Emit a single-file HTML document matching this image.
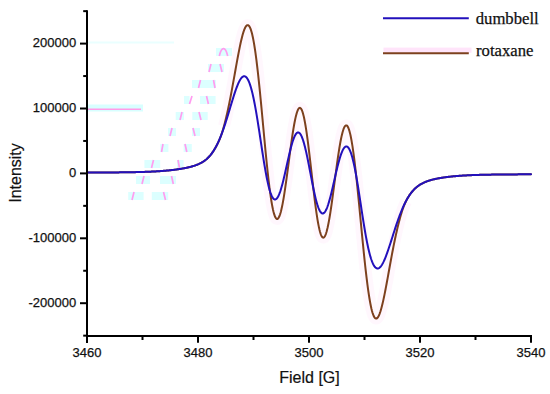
<!DOCTYPE html>
<html><head><meta charset="utf-8"><style>
html,body{margin:0;padding:0;background:#fff;}
body{width:550px;height:394px;overflow:hidden;}
svg{display:block;}
text{font-family:"Liberation Sans",sans-serif;}
.leg text{font-family:"Liberation Serif",serif;}
</style></head><body>
<svg width="550" height="394" viewBox="0 0 550 394">
<rect width="550" height="394" fill="#fff"/>
<g><rect x="88" y="104.5" width="55" height="7" fill="#d8ffff"/><line x1="88" y1="109.3" x2="141" y2="109.3" stroke="#ff9ce8" stroke-width="1.6"/><rect x="88" y="41.5" width="86" height="2" fill="#eaffff"/><rect x="216" y="48" width="16" height="8" fill="#dcffff"/><path d="M219.3 56 Q221 48.5 223.5 48.6 Q226 48.5 227.7 56" fill="none" stroke="#ff9cf0" stroke-width="1.7"/><rect x="208" y="64" width="16.0" height="8" fill="#dcffff"/><line x1="211" y1="64" x2="209" y2="72" stroke="#ff9cf0" stroke-width="1.7"/><line x1="220" y1="64" x2="222" y2="72" stroke="#ff9cf0" stroke-width="1.7"/><rect x="192" y="80" width="24.0" height="8" fill="#dcffff"/><line x1="200.5" y1="80" x2="198.5" y2="88" stroke="#ff9cf0" stroke-width="1.7"/><line x1="213.5" y1="80" x2="215" y2="88" stroke="#ff9cf0" stroke-width="1.7"/><rect x="184" y="96" width="5.5" height="8" fill="#dcffff"/><rect x="200" y="96" width="6.5" height="8" fill="#dcffff"/><rect x="206.5" y="96" width="9.1" height="8" fill="#dcffff"/><line x1="192" y1="96" x2="189.5" y2="104" stroke="#ff9cf0" stroke-width="1.7"/><line x1="206.5" y1="96" x2="208.4" y2="104" stroke="#ff9cf0" stroke-width="1.7"/><rect x="175.7" y="112" width="8.3" height="8" fill="#dcffff"/><rect x="192.3" y="112" width="15.4" height="8" fill="#dcffff"/><line x1="182" y1="112" x2="180" y2="120" stroke="#ff9cf0" stroke-width="1.7"/><line x1="199" y1="112" x2="201" y2="120" stroke="#ff9cf0" stroke-width="1.7"/><rect x="168" y="128" width="8.0" height="8" fill="#dcffff"/><rect x="192" y="128" width="8.0" height="8" fill="#dcffff"/><line x1="172" y1="128" x2="170" y2="136" stroke="#ff9cf0" stroke-width="1.7"/><line x1="193" y1="128" x2="195" y2="136" stroke="#ff9cf0" stroke-width="1.7"/><rect x="160.2" y="144" width="8.2" height="8" fill="#dcffff"/><rect x="183.6" y="144" width="8.2" height="8" fill="#dcffff"/><line x1="163" y1="144" x2="161.5" y2="152" stroke="#ff9cf0" stroke-width="1.7"/><line x1="185" y1="144" x2="186.8" y2="152" stroke="#ff9cf0" stroke-width="1.7"/><rect x="144.4" y="160" width="15.8" height="8" fill="#dcffff"/><rect x="177" y="160" width="6.6" height="8" fill="#dcffff"/><line x1="153.5" y1="160" x2="151.5" y2="168" stroke="#ff9cf0" stroke-width="1.7"/><line x1="178" y1="160" x2="179.5" y2="168" stroke="#ff9cf0" stroke-width="1.7"/><rect x="136" y="176" width="14.0" height="8" fill="#dcffff"/><rect x="160" y="176" width="16.0" height="8" fill="#dcffff"/><line x1="144" y1="176" x2="142" y2="184" stroke="#ff9cf0" stroke-width="1.7"/><line x1="171.5" y1="176" x2="173.3" y2="184" stroke="#ff9cf0" stroke-width="1.7"/><rect x="128.2" y="192" width="15.4" height="8" fill="#dcffff"/><rect x="151.8" y="192" width="16.4" height="8" fill="#dcffff"/><line x1="134" y1="192" x2="132" y2="200" stroke="#ff9cf0" stroke-width="1.7"/><line x1="163.5" y1="192" x2="165.5" y2="200" stroke="#ff9cf0" stroke-width="1.7"/></g>
<path d="M224.0 125.98 L224.5 124.13 L225.0 122.21 L225.5 120.23 L226.0 118.19 L226.5 116.08 L227.0 113.91 L227.5 111.68 L228.0 109.38 L228.5 107.03 L229.0 104.62 L229.5 102.16 L230.0 99.64 L230.5 97.08 L231.0 94.47 L231.5 91.82 L232.0 89.14 L232.5 86.42 L233.0 83.67 L233.5 80.90 L234.0 78.11 L234.5 75.31 L235.0 72.51 L235.5 69.71 L236.0 66.92 L236.5 64.15 L237.0 61.40 L237.5 58.69 L238.0 56.01 L238.5 53.39 L239.0 50.83 L239.5 48.33 L240.0 45.91 L240.5 43.58 L241.0 41.34 L241.5 39.21 L242.0 37.19 L242.5 35.29 L243.0 33.53 L243.5 31.92 L244.0 30.45 L244.5 29.14 L245.0 28.01 L245.5 27.05 L246.0 26.27 L246.5 25.69 L247.0 25.31 L247.5 25.13 L248.0 25.17 L248.5 25.42 L249.0 25.90 L249.5 26.60 L250.0 27.53 L250.5 28.70 L251.0 30.10 L251.5 31.73 L252.0 33.60 L252.5 35.71 L253.0 38.05 L253.5 40.63 L254.0 43.43 L254.5 46.47 L255.0 49.72 L255.5 53.18 L256.0 56.86 L256.5 60.74 L257.0 64.81 L257.5 69.06 L258.0 73.49 L258.5 78.07 L259.0 82.81 L259.5 87.68 L260.0 92.67 L260.5 97.77 L261.0 102.95 L261.5 108.21 L262.0 113.53 L262.5 118.88 L263.0 124.26 L263.5 129.63 L264.0 134.99 L264.5 140.32 L265.0 145.58 L265.5 150.78 L266.0 155.89 L266.5 160.89 L267.0 165.77 L267.5 170.50 L268.0 175.09 L268.5 179.50 L269.0 183.73 L269.5 187.77 L270.0 191.59 L270.5 195.20 L271.0 198.59 L271.5 201.73 L272.0 204.63 L272.5 207.27 L273.0 209.66 L273.5 211.78 L274.0 213.64 L274.5 215.22 L275.0 216.53 L275.5 217.56 L276.0 218.31 L276.5 218.79 L277.0 218.99 L277.5 218.92 L278.0 218.58 L278.5 217.98 L279.0 217.11 L279.5 215.99 L280.0 214.62 L280.5 213.01 L281.0 211.17 L281.5 209.10 L282.0 206.83 L282.5 204.35 L283.0 201.68 L283.5 198.84 L284.0 195.83 L284.5 192.67 L285.0 189.38 L285.5 185.97 L286.0 182.45 L286.5 178.84 L287.0 175.15 L287.5 171.41 L288.0 167.64 L288.5 163.83 L289.0 160.03 L289.5 156.23 L290.0 152.47 L290.5 148.75 L291.0 145.10 L291.5 141.53 L292.0 138.06 L292.5 134.71 L293.0 131.49 L293.5 128.41 L294.0 125.50 L294.5 122.77 L295.0 120.23 L295.5 117.89 L296.0 115.78 L296.5 113.89 L297.0 112.24 L297.5 110.84 L298.0 109.70 L298.5 108.83 L299.0 108.23 L299.5 107.90 L300.0 107.85 L300.5 108.09 L301.0 108.61 L301.5 109.41 L302.0 110.49 L302.5 111.85 L303.0 113.48 L303.5 115.38 L304.0 117.54 L304.5 119.95 L305.0 122.61 L305.5 125.49 L306.0 128.59 L306.5 131.89 L307.0 135.38 L307.5 139.04 L308.0 142.87 L308.5 146.83 L309.0 150.91 L309.5 155.09 L310.0 159.35 L310.5 163.68 L311.0 168.05 L311.5 172.44 L312.0 176.83 L312.5 181.20 L313.0 185.54 L313.5 189.81 L314.0 194.00 L314.5 198.09 L315.0 202.07 L315.5 205.91 L316.0 209.59 L316.5 213.10 L317.0 216.43 L317.5 219.55 L318.0 222.46 L318.5 225.14 L319.0 227.59 L319.5 229.78 L320.0 231.72 L320.5 233.39 L321.0 234.80 L321.5 235.92 L322.0 236.77 L322.5 237.34 L323.0 237.62 L323.5 237.63 L324.0 237.35 L324.5 236.80 L325.0 235.98 L325.5 234.90 L326.0 233.56 L326.5 231.96 L327.0 230.13 L327.5 228.07 L328.0 225.79 L328.5 223.30 L329.0 220.62 L329.5 217.76 L330.0 214.73 L330.5 211.55 L331.0 208.24 L331.5 204.80 L332.0 201.26 L332.5 197.64 L333.0 193.94 L333.5 190.20 L334.0 186.41 L334.5 182.61 L335.0 178.81 L335.5 175.02 L336.0 171.26 L336.5 167.56 L337.0 163.91 L337.5 160.35 L338.0 156.89 L338.5 153.54 L339.0 150.32 L339.5 147.23 L340.0 144.31 L340.5 141.55 L341.0 138.97 L341.5 136.59 L342.0 134.41 L342.5 132.45 L343.0 130.70 L343.5 129.20 L344.0 127.93 L344.5 126.91 L345.0 126.14 L345.5 125.64 L346.0 125.40 L346.5 125.42 L347.0 125.71 L347.5 126.28 L348.0 127.12 L348.5 128.22 L349.0 129.60 L349.5 131.24 L350.0 133.15 L350.5 135.32 L351.0 137.74 L351.5 140.41 L352.0 143.32 L352.5 146.46 L353.0 149.83 L353.5 153.41 L354.0 157.19 L354.5 161.17 L355.0 165.33 L355.5 169.65 L356.0 174.13 L356.5 178.75 L357.0 183.50 L357.5 188.35 L358.0 193.31 L358.5 198.35 L359.0 203.45 L359.5 208.60 L360.0 213.78 L360.5 218.99 L361.0 224.19 L361.5 229.38 L362.0 234.54 L362.5 239.65 L363.0 244.71 L363.5 249.68 L364.0 254.57 L364.5 259.35 L365.0 264.01 L365.5 268.55 L366.0 272.94 L366.5 277.17 L367.0 281.24 L367.5 285.13 L368.0 288.83 L368.5 292.34 L369.0 295.65 L369.5 298.75 L370.0 301.64 L370.5 304.30 L371.0 306.74 L371.5 308.96 L372.0 310.94 L372.5 312.69 L373.0 314.21 L373.5 315.50 L374.0 316.56 L374.5 317.39 L375.0 318.00 L375.5 318.38 L376.0 318.55 L376.5 318.50 L377.0 318.24 L377.5 317.78 L378.0 317.13 L378.5 316.29 L379.0 315.26 L379.5 314.07 L380.0 312.71 L380.5 311.20 L381.0 309.53 L381.5 307.74 L382.0 305.81 L382.5 303.76 L383.0 301.61 L383.5 299.35 L384.0 297.01 L384.5 294.58 L385.0 292.08 L385.5 289.52 L386.0 286.90 L386.5 284.24 L387.0 281.54 L387.5 278.81 L388.0 276.06 L388.5 273.30 L389.0 270.53 L389.5 267.77 L390.0 265.01 L390.5 262.26 L391.0 259.54 L391.5 256.84 L392.0 254.17 L392.5 251.54 L393.0 248.94 L393.5 246.39 L394.0 243.88 L394.5 241.43 L395.0 239.03 L395.5 236.68 L396.0 234.39 L396.5 232.16 L397.0 229.99 L397.5 227.88 L398.0 225.84 L398.5 223.85 L399.0 221.94 L399.5 220.08 L400.0 218.29 L400.5 216.56 L401.0 214.90 L401.5 213.29 L402.0 211.75 L402.5 210.27 L403.0 208.85 L403.5 207.48 L404.0 206.17 L404.5 204.92 L405.0 203.72 L405.5 202.57 L406.0 201.48" fill="none" stroke="#ff3cc8" stroke-opacity="0.045" stroke-width="12" stroke-linejoin="round"/>
<g fill="none" stroke-linejoin="round" stroke-linecap="round" stroke-width="2">
<path d="M87.0 172.61 L87.5 172.61 L88.0 172.61 L88.5 172.61 L89.0 172.60 L89.5 172.60 L90.0 172.60 L90.5 172.59 L91.0 172.59 L91.5 172.59 L92.0 172.58 L92.5 172.58 L93.0 172.58 L93.5 172.58 L94.0 172.57 L94.5 172.57 L95.0 172.57 L95.5 172.56 L96.0 172.56 L96.5 172.56 L97.0 172.55 L97.5 172.55 L98.0 172.55 L98.5 172.54 L99.0 172.54 L99.5 172.54 L100.0 172.53 L100.5 172.53 L101.0 172.53 L101.5 172.52 L102.0 172.52 L102.5 172.52 L103.0 172.51 L103.5 172.51 L104.0 172.51 L104.5 172.50 L105.0 172.50 L105.5 172.50 L106.0 172.49 L106.5 172.49 L107.0 172.49 L107.5 172.48 L108.0 172.48 L108.5 172.47 L109.0 172.47 L109.5 172.47 L110.0 172.46 L110.5 172.46 L111.0 172.45 L111.5 172.45 L112.0 172.44 L112.5 172.44 L113.0 172.44 L113.5 172.43 L114.0 172.43 L114.5 172.42 L115.0 172.42 L115.5 172.41 L116.0 172.41 L116.5 172.40 L117.0 172.40 L117.5 172.39 L118.0 172.39 L118.5 172.38 L119.0 172.38 L119.5 172.37 L120.0 172.37 L120.5 172.36 L121.0 172.36 L121.5 172.35 L122.0 172.34 L122.5 172.34 L123.0 172.33 L123.5 172.33 L124.0 172.32 L124.5 172.31 L125.0 172.31 L125.5 172.30 L126.0 172.29 L126.5 172.29 L127.0 172.28 L127.5 172.27 L128.0 172.26 L128.5 172.26 L129.0 172.25 L129.5 172.24 L130.0 172.23 L130.5 172.22 L131.0 172.21 L131.5 172.21 L132.0 172.20 L132.5 172.19 L133.0 172.18 L133.5 172.17 L134.0 172.16 L134.5 172.15 L135.0 172.14 L135.5 172.13 L136.0 172.12 L136.5 172.10 L137.0 172.09 L137.5 172.08 L138.0 172.07 L138.5 172.06 L139.0 172.04 L139.5 172.03 L140.0 172.02 L140.5 172.01 L141.0 171.99 L141.5 171.98 L142.0 171.96 L142.5 171.95 L143.0 171.93 L143.5 171.92 L144.0 171.90 L144.5 171.88 L145.0 171.87 L145.5 171.85 L146.0 171.83 L146.5 171.82 L147.0 171.80 L147.5 171.78 L148.0 171.76 L148.5 171.74 L149.0 171.72 L149.5 171.70 L150.0 171.68 L150.5 171.66 L151.0 171.63 L151.5 171.61 L152.0 171.59 L152.5 171.56 L153.0 171.54 L153.5 171.51 L154.0 171.49 L154.5 171.46 L155.0 171.43 L155.5 171.41 L156.0 171.38 L156.5 171.35 L157.0 171.32 L157.5 171.29 L158.0 171.26 L158.5 171.23 L159.0 171.20 L159.5 171.16 L160.0 171.13 L160.5 171.09 L161.0 171.06 L161.5 171.02 L162.0 170.99 L162.5 170.95 L163.0 170.91 L163.5 170.87 L164.0 170.83 L164.5 170.79 L165.0 170.75 L165.5 170.70 L166.0 170.66 L166.5 170.61 L167.0 170.57 L167.5 170.52 L168.0 170.47 L168.5 170.43 L169.0 170.38 L169.5 170.32 L170.0 170.27 L170.5 170.22 L171.0 170.17 L171.5 170.11 L172.0 170.05 L172.5 170.00 L173.0 169.94 L173.5 169.88 L174.0 169.82 L174.5 169.75 L175.0 169.69 L175.5 169.62 L176.0 169.56 L176.5 169.49 L177.0 169.42 L177.5 169.35 L178.0 169.28 L178.5 169.20 L179.0 169.13 L179.5 169.05 L180.0 168.97 L180.5 168.89 L181.0 168.81 L181.5 168.73 L182.0 168.64 L182.5 168.55 L183.0 168.47 L183.5 168.37 L184.0 168.28 L184.5 168.19 L185.0 168.09 L185.5 167.99 L186.0 167.89 L186.5 167.78 L187.0 167.68 L187.5 167.57 L188.0 167.45 L188.5 167.34 L189.0 167.22 L189.5 167.10 L190.0 166.97 L190.5 166.85 L191.0 166.72 L191.5 166.58 L192.0 166.44 L192.5 166.30 L193.0 166.15 L193.5 165.99 L194.0 165.84 L194.5 165.67 L195.0 165.51 L195.5 165.33 L196.0 165.15 L196.5 164.96 L197.0 164.77 L197.5 164.57 L198.0 164.36 L198.5 164.14 L199.0 163.92 L199.5 163.68 L200.0 163.44 L200.5 163.19 L201.0 162.92 L201.5 162.65 L202.0 162.36 L202.5 162.06 L203.0 161.75 L203.5 161.43 L204.0 161.09 L204.5 160.73 L205.0 160.37 L205.5 159.98 L206.0 159.58 L206.5 159.16 L207.0 158.72 L207.5 158.26 L208.0 157.78 L208.5 157.28 L209.0 156.76 L209.5 156.21 L210.0 155.64 L210.5 155.05 L211.0 154.43 L211.5 153.79 L212.0 153.12 L212.5 152.42 L213.0 151.69 L213.5 150.93 L214.0 150.14 L214.5 149.33 L215.0 148.49 L215.5 147.63 L216.0 146.74 L216.5 145.83 L217.0 144.88 L217.5 143.90 L218.0 142.88 L218.5 141.82 L219.0 140.71 L219.5 139.56 L220.0 138.34 L220.5 137.07 L221.0 135.73 L221.5 134.31 L222.0 132.83 L222.5 131.26 L223.0 129.62 L223.5 127.89 L224.0 126.09 L224.5 124.21 L225.0 122.26 L225.5 120.25 L226.0 118.19 L226.5 116.08 L227.0 113.91 L227.5 111.68 L228.0 109.38 L228.5 107.03 L229.0 104.62 L229.5 102.16 L230.0 99.64 L230.5 97.08 L231.0 94.47 L231.5 91.82 L232.0 89.14 L232.5 86.42 L233.0 83.67 L233.5 80.90 L234.0 78.11 L234.5 75.31 L235.0 72.51 L235.5 69.71 L236.0 66.92 L236.5 64.15 L237.0 61.40 L237.5 58.69 L238.0 56.01 L238.5 53.39 L239.0 50.83 L239.5 48.33 L240.0 45.91 L240.5 43.58 L241.0 41.34 L241.5 39.21 L242.0 37.19 L242.5 35.29 L243.0 33.53 L243.5 31.92 L244.0 30.45 L244.5 29.14 L245.0 28.01 L245.5 27.05 L246.0 26.27 L246.5 25.69 L247.0 25.31 L247.5 25.13 L248.0 25.17 L248.5 25.42 L249.0 25.90 L249.5 26.60 L250.0 27.53 L250.5 28.70 L251.0 30.10 L251.5 31.73 L252.0 33.60 L252.5 35.71 L253.0 38.05 L253.5 40.63 L254.0 43.43 L254.5 46.47 L255.0 49.72 L255.5 53.18 L256.0 56.86 L256.5 60.74 L257.0 64.81 L257.5 69.06 L258.0 73.49 L258.5 78.07 L259.0 82.81 L259.5 87.68 L260.0 92.67 L260.5 97.77 L261.0 102.95 L261.5 108.21 L262.0 113.53 L262.5 118.88 L263.0 124.26 L263.5 129.63 L264.0 134.99 L264.5 140.32 L265.0 145.58 L265.5 150.78 L266.0 155.89 L266.5 160.89 L267.0 165.77 L267.5 170.50 L268.0 175.09 L268.5 179.50 L269.0 183.73 L269.5 187.77 L270.0 191.59 L270.5 195.20 L271.0 198.59 L271.5 201.73 L272.0 204.63 L272.5 207.27 L273.0 209.66 L273.5 211.78 L274.0 213.64 L274.5 215.22 L275.0 216.53 L275.5 217.56 L276.0 218.31 L276.5 218.79 L277.0 218.99 L277.5 218.92 L278.0 218.58 L278.5 217.98 L279.0 217.11 L279.5 215.99 L280.0 214.62 L280.5 213.01 L281.0 211.17 L281.5 209.10 L282.0 206.83 L282.5 204.35 L283.0 201.68 L283.5 198.84 L284.0 195.83 L284.5 192.67 L285.0 189.38 L285.5 185.97 L286.0 182.45 L286.5 178.84 L287.0 175.15 L287.5 171.41 L288.0 167.64 L288.5 163.83 L289.0 160.03 L289.5 156.23 L290.0 152.47 L290.5 148.75 L291.0 145.10 L291.5 141.53 L292.0 138.06 L292.5 134.71 L293.0 131.49 L293.5 128.41 L294.0 125.50 L294.5 122.77 L295.0 120.23 L295.5 117.89 L296.0 115.78 L296.5 113.89 L297.0 112.24 L297.5 110.84 L298.0 109.70 L298.5 108.83 L299.0 108.23 L299.5 107.90 L300.0 107.85 L300.5 108.09 L301.0 108.61 L301.5 109.41 L302.0 110.49 L302.5 111.85 L303.0 113.48 L303.5 115.38 L304.0 117.54 L304.5 119.95 L305.0 122.61 L305.5 125.49 L306.0 128.59 L306.5 131.89 L307.0 135.38 L307.5 139.04 L308.0 142.87 L308.5 146.83 L309.0 150.91 L309.5 155.09 L310.0 159.35 L310.5 163.68 L311.0 168.05 L311.5 172.44 L312.0 176.83 L312.5 181.20 L313.0 185.54 L313.5 189.81 L314.0 194.00 L314.5 198.09 L315.0 202.07 L315.5 205.91 L316.0 209.59 L316.5 213.10 L317.0 216.43 L317.5 219.55 L318.0 222.46 L318.5 225.14 L319.0 227.59 L319.5 229.78 L320.0 231.72 L320.5 233.39 L321.0 234.80 L321.5 235.92 L322.0 236.77 L322.5 237.34 L323.0 237.62 L323.5 237.63 L324.0 237.35 L324.5 236.80 L325.0 235.98 L325.5 234.90 L326.0 233.56 L326.5 231.96 L327.0 230.13 L327.5 228.07 L328.0 225.79 L328.5 223.30 L329.0 220.62 L329.5 217.76 L330.0 214.73 L330.5 211.55 L331.0 208.24 L331.5 204.80 L332.0 201.26 L332.5 197.64 L333.0 193.94 L333.5 190.20 L334.0 186.41 L334.5 182.61 L335.0 178.81 L335.5 175.02 L336.0 171.26 L336.5 167.56 L337.0 163.91 L337.5 160.35 L338.0 156.89 L338.5 153.54 L339.0 150.32 L339.5 147.23 L340.0 144.31 L340.5 141.55 L341.0 138.97 L341.5 136.59 L342.0 134.41 L342.5 132.45 L343.0 130.70 L343.5 129.20 L344.0 127.93 L344.5 126.91 L345.0 126.14 L345.5 125.64 L346.0 125.40 L346.5 125.42 L347.0 125.71 L347.5 126.28 L348.0 127.12 L348.5 128.22 L349.0 129.60 L349.5 131.24 L350.0 133.15 L350.5 135.32 L351.0 137.74 L351.5 140.41 L352.0 143.32 L352.5 146.46 L353.0 149.83 L353.5 153.41 L354.0 157.19 L354.5 161.17 L355.0 165.33 L355.5 169.65 L356.0 174.13 L356.5 178.75 L357.0 183.50 L357.5 188.35 L358.0 193.31 L358.5 198.35 L359.0 203.45 L359.5 208.60 L360.0 213.78 L360.5 218.99 L361.0 224.19 L361.5 229.38 L362.0 234.54 L362.5 239.65 L363.0 244.71 L363.5 249.68 L364.0 254.57 L364.5 259.35 L365.0 264.01 L365.5 268.55 L366.0 272.94 L366.5 277.17 L367.0 281.24 L367.5 285.13 L368.0 288.83 L368.5 292.34 L369.0 295.65 L369.5 298.75 L370.0 301.64 L370.5 304.30 L371.0 306.74 L371.5 308.96 L372.0 310.94 L372.5 312.69 L373.0 314.21 L373.5 315.50 L374.0 316.56 L374.5 317.39 L375.0 318.00 L375.5 318.38 L376.0 318.55 L376.5 318.50 L377.0 318.24 L377.5 317.78 L378.0 317.13 L378.5 316.29 L379.0 315.26 L379.5 314.07 L380.0 312.71 L380.5 311.20 L381.0 309.53 L381.5 307.74 L382.0 305.81 L382.5 303.76 L383.0 301.61 L383.5 299.35 L384.0 297.01 L384.5 294.58 L385.0 292.08 L385.5 289.52 L386.0 286.90 L386.5 284.24 L387.0 281.54 L387.5 278.81 L388.0 276.06 L388.5 273.30 L389.0 270.53 L389.5 267.77 L390.0 265.01 L390.5 262.26 L391.0 259.54 L391.5 256.84 L392.0 254.17 L392.5 251.54 L393.0 248.94 L393.5 246.39 L394.0 243.88 L394.5 241.43 L395.0 239.03 L395.5 236.68 L396.0 234.39 L396.5 232.16 L397.0 229.99 L397.5 227.88 L398.0 225.84 L398.5 223.83 L399.0 221.87 L399.5 219.95 L400.0 218.08 L400.5 216.28 L401.0 214.55 L401.5 212.90 L402.0 211.32 L402.5 209.81 L403.0 208.38 L403.5 207.02 L404.0 205.73 L404.5 204.50 L405.0 203.35 L405.5 202.25 L406.0 201.20 L406.5 200.21 L407.0 199.27 L407.5 198.37 L408.0 197.52 L408.5 196.70 L409.0 195.91 L409.5 195.16 L410.0 194.44 L410.5 193.75 L411.0 193.08 L411.5 192.44 L412.0 191.82 L412.5 191.23 L413.0 190.66 L413.5 190.11 L414.0 189.58 L414.5 189.07 L415.0 188.59 L415.5 188.12 L416.0 187.68 L416.5 187.25 L417.0 186.84 L417.5 186.44 L418.0 186.06 L418.5 185.70 L419.0 185.35 L419.5 185.02 L420.0 184.70 L420.5 184.39 L421.0 184.09 L421.5 183.81 L422.0 183.54 L422.5 183.28 L423.0 183.03 L423.5 182.78 L424.0 182.55 L424.5 182.33 L425.0 182.11 L425.5 181.90 L426.0 181.70 L426.5 181.51 L427.0 181.33 L427.5 181.15 L428.0 180.97 L428.5 180.81 L429.0 180.65 L429.5 180.49 L430.0 180.34 L430.5 180.19 L431.0 180.05 L431.5 179.91 L432.0 179.78 L432.5 179.65 L433.0 179.52 L433.5 179.40 L434.0 179.28 L434.5 179.16 L435.0 179.05 L435.5 178.94 L436.0 178.84 L436.5 178.73 L437.0 178.63 L437.5 178.53 L438.0 178.44 L438.5 178.34 L439.0 178.25 L439.5 178.16 L440.0 178.07 L440.5 177.99 L441.0 177.90 L441.5 177.82 L442.0 177.74 L442.5 177.66 L443.0 177.59 L443.5 177.51 L444.0 177.44 L444.5 177.37 L445.0 177.30 L445.5 177.23 L446.0 177.16 L446.5 177.10 L447.0 177.03 L447.5 176.97 L448.0 176.91 L448.5 176.85 L449.0 176.79 L449.5 176.73 L450.0 176.68 L450.5 176.62 L451.0 176.57 L451.5 176.52 L452.0 176.46 L452.5 176.41 L453.0 176.36 L453.5 176.32 L454.0 176.27 L454.5 176.22 L455.0 176.18 L455.5 176.13 L456.0 176.09 L456.5 176.05 L457.0 176.01 L457.5 175.97 L458.0 175.93 L458.5 175.89 L459.0 175.85 L459.5 175.81 L460.0 175.78 L460.5 175.74 L461.0 175.71 L461.5 175.67 L462.0 175.64 L462.5 175.61 L463.0 175.58 L463.5 175.55 L464.0 175.52 L464.5 175.49 L465.0 175.46 L465.5 175.43 L466.0 175.40 L466.5 175.38 L467.0 175.35 L467.5 175.32 L468.0 175.30 L468.5 175.28 L469.0 175.25 L469.5 175.23 L470.0 175.21 L470.5 175.18 L471.0 175.16 L471.5 175.14 L472.0 175.12 L472.5 175.10 L473.0 175.08 L473.5 175.06 L474.0 175.05 L474.5 175.03 L475.0 175.01 L475.5 174.99 L476.0 174.98 L476.5 174.96 L477.0 174.94 L477.5 174.93 L478.0 174.91 L478.5 174.90 L479.0 174.88 L479.5 174.87 L480.0 174.86 L480.5 174.84 L481.0 174.83 L481.5 174.82 L482.0 174.81 L482.5 174.79 L483.0 174.78 L483.5 174.77 L484.0 174.76 L484.5 174.75 L485.0 174.74 L485.5 174.73 L486.0 174.72 L486.5 174.71 L487.0 174.70 L487.5 174.69 L488.0 174.68 L488.5 174.67 L489.0 174.66 L489.5 174.65 L490.0 174.64 L490.5 174.64 L491.0 174.63 L491.5 174.62 L492.0 174.61 L492.5 174.61 L493.0 174.60 L493.5 174.59 L494.0 174.58 L494.5 174.58 L495.0 174.57 L495.5 174.56 L496.0 174.56 L496.5 174.55 L497.0 174.55 L497.5 174.54 L498.0 174.53 L498.5 174.53 L499.0 174.52 L499.5 174.52 L500.0 174.51 L500.5 174.51 L501.0 174.50 L501.5 174.50 L502.0 174.49 L502.5 174.49 L503.0 174.48 L503.5 174.48 L504.0 174.47 L504.5 174.47 L505.0 174.47 L505.5 174.46 L506.0 174.46 L506.5 174.45 L507.0 174.45 L507.5 174.45 L508.0 174.44 L508.5 174.44 L509.0 174.43 L509.5 174.43 L510.0 174.43 L510.5 174.42 L511.0 174.42 L511.5 174.42 L512.0 174.41 L512.5 174.41 L513.0 174.40 L513.5 174.40 L514.0 174.40 L514.5 174.39 L515.0 174.39 L515.5 174.39 L516.0 174.39 L516.5 174.38 L517.0 174.38 L517.5 174.38 L518.0 174.37 L518.5 174.37 L519.0 174.37 L519.5 174.36 L520.0 174.36 L520.5 174.36 L521.0 174.36 L521.5 174.35 L522.0 174.35 L522.5 174.35 L523.0 174.34 L523.5 174.34 L524.0 174.34 L524.5 174.34 L525.0 174.33 L525.5 174.33 L526.0 174.33 L526.5 174.32 L527.0 174.32 L527.5 174.32 L528.0 174.32 L528.5 174.31 L529.0 174.31 L529.5 174.31 L530.0 174.31 L530.5 174.30 L531.0 174.30" stroke="#7d401e"/>
<path d="M87.0 172.61 L87.5 172.61 L88.0 172.61 L88.5 172.61 L89.0 172.60 L89.5 172.60 L90.0 172.60 L90.5 172.59 L91.0 172.59 L91.5 172.59 L92.0 172.58 L92.5 172.58 L93.0 172.58 L93.5 172.58 L94.0 172.57 L94.5 172.57 L95.0 172.57 L95.5 172.56 L96.0 172.56 L96.5 172.56 L97.0 172.55 L97.5 172.55 L98.0 172.55 L98.5 172.54 L99.0 172.54 L99.5 172.54 L100.0 172.53 L100.5 172.53 L101.0 172.53 L101.5 172.52 L102.0 172.52 L102.5 172.52 L103.0 172.51 L103.5 172.51 L104.0 172.51 L104.5 172.50 L105.0 172.50 L105.5 172.50 L106.0 172.49 L106.5 172.49 L107.0 172.49 L107.5 172.48 L108.0 172.48 L108.5 172.47 L109.0 172.47 L109.5 172.47 L110.0 172.46 L110.5 172.46 L111.0 172.45 L111.5 172.45 L112.0 172.44 L112.5 172.44 L113.0 172.44 L113.5 172.43 L114.0 172.43 L114.5 172.42 L115.0 172.42 L115.5 172.41 L116.0 172.41 L116.5 172.40 L117.0 172.40 L117.5 172.39 L118.0 172.39 L118.5 172.38 L119.0 172.38 L119.5 172.37 L120.0 172.37 L120.5 172.36 L121.0 172.36 L121.5 172.35 L122.0 172.34 L122.5 172.34 L123.0 172.33 L123.5 172.33 L124.0 172.32 L124.5 172.31 L125.0 172.31 L125.5 172.30 L126.0 172.29 L126.5 172.29 L127.0 172.28 L127.5 172.27 L128.0 172.26 L128.5 172.26 L129.0 172.25 L129.5 172.24 L130.0 172.23 L130.5 172.22 L131.0 172.21 L131.5 172.21 L132.0 172.20 L132.5 172.19 L133.0 172.18 L133.5 172.17 L134.0 172.16 L134.5 172.15 L135.0 172.14 L135.5 172.13 L136.0 172.12 L136.5 172.10 L137.0 172.09 L137.5 172.08 L138.0 172.07 L138.5 172.06 L139.0 172.04 L139.5 172.03 L140.0 172.02 L140.5 172.01 L141.0 171.99 L141.5 171.98 L142.0 171.96 L142.5 171.95 L143.0 171.93 L143.5 171.92 L144.0 171.90 L144.5 171.88 L145.0 171.87 L145.5 171.85 L146.0 171.83 L146.5 171.82 L147.0 171.80 L147.5 171.78 L148.0 171.76 L148.5 171.74 L149.0 171.72 L149.5 171.70 L150.0 171.68 L150.5 171.66 L151.0 171.63 L151.5 171.61 L152.0 171.59 L152.5 171.56 L153.0 171.54 L153.5 171.51 L154.0 171.49 L154.5 171.46 L155.0 171.43 L155.5 171.41 L156.0 171.38 L156.5 171.35 L157.0 171.32 L157.5 171.29 L158.0 171.26 L158.5 171.23 L159.0 171.20 L159.5 171.16 L160.0 171.13 L160.5 171.09 L161.0 171.06 L161.5 171.02 L162.0 170.99 L162.5 170.95 L163.0 170.91 L163.5 170.87 L164.0 170.83 L164.5 170.79 L165.0 170.75 L165.5 170.70 L166.0 170.66 L166.5 170.61 L167.0 170.57 L167.5 170.52 L168.0 170.47 L168.5 170.43 L169.0 170.38 L169.5 170.32 L170.0 170.27 L170.5 170.22 L171.0 170.17 L171.5 170.11 L172.0 170.05 L172.5 170.00 L173.0 169.94 L173.5 169.88 L174.0 169.82 L174.5 169.75 L175.0 169.69 L175.5 169.62 L176.0 169.56 L176.5 169.49 L177.0 169.42 L177.5 169.35 L178.0 169.28 L178.5 169.20 L179.0 169.13 L179.5 169.05 L180.0 168.97 L180.5 168.89 L181.0 168.81 L181.5 168.73 L182.0 168.64 L182.5 168.55 L183.0 168.47 L183.5 168.37 L184.0 168.28 L184.5 168.19 L185.0 168.09 L185.5 167.99 L186.0 167.89 L186.5 167.78 L187.0 167.68 L187.5 167.57 L188.0 167.45 L188.5 167.34 L189.0 167.22 L189.5 167.10 L190.0 166.97 L190.5 166.85 L191.0 166.72 L191.5 166.58 L192.0 166.44 L192.5 166.30 L193.0 166.15 L193.5 165.99 L194.0 165.84 L194.5 165.67 L195.0 165.51 L195.5 165.33 L196.0 165.15 L196.5 164.96 L197.0 164.77 L197.5 164.57 L198.0 164.36 L198.5 164.14 L199.0 163.92 L199.5 163.68 L200.0 163.44 L200.5 163.19 L201.0 162.92 L201.5 162.65 L202.0 162.36 L202.5 162.06 L203.0 161.75 L203.5 161.43 L204.0 161.09 L204.5 160.73 L205.0 160.37 L205.5 159.98 L206.0 159.58 L206.5 159.16 L207.0 158.72 L207.5 158.26 L208.0 157.78 L208.5 157.28 L209.0 156.76 L209.5 156.21 L210.0 155.64 L210.5 155.05 L211.0 154.43 L211.5 153.79 L212.0 153.12 L212.5 152.42 L213.0 151.69 L213.5 150.93 L214.0 150.14 L214.5 149.32 L215.0 148.47 L215.5 147.59 L216.0 146.68 L216.5 145.73 L217.0 144.75 L217.5 143.73 L218.0 142.68 L218.5 141.59 L219.0 140.47 L219.5 139.32 L220.0 138.13 L220.5 136.90 L221.0 135.64 L221.5 134.35 L222.0 133.02 L222.5 131.66 L223.0 130.27 L223.5 128.85 L224.0 127.40 L224.5 125.91 L225.0 124.40 L225.5 122.87 L226.0 121.31 L226.5 119.73 L227.0 118.13 L227.5 116.51 L228.0 114.88 L228.5 113.23 L229.0 111.57 L229.5 109.91 L230.0 108.24 L230.5 106.57 L231.0 104.90 L231.5 103.24 L232.0 101.59 L232.5 99.96 L233.0 98.34 L233.5 96.74 L234.0 95.17 L234.5 93.63 L235.0 92.13 L235.5 90.66 L236.0 89.24 L236.5 87.87 L237.0 86.55 L237.5 85.29 L238.0 84.09 L238.5 82.96 L239.0 81.90 L239.5 80.92 L240.0 80.02 L240.5 79.20 L241.0 78.48 L241.5 77.85 L242.0 77.31 L242.5 76.88 L243.0 76.55 L243.5 76.33 L244.0 76.23 L244.5 76.24 L245.0 76.37 L245.5 76.62 L246.0 76.99 L246.5 77.49 L247.0 78.12 L247.5 78.87 L248.0 79.76 L248.5 80.77 L249.0 81.92 L249.5 83.20 L250.0 84.61 L250.5 86.16 L251.0 87.83 L251.5 89.63 L252.0 91.56 L252.5 93.61 L253.0 95.79 L253.5 98.08 L254.0 100.49 L254.5 103.01 L255.0 105.64 L255.5 108.37 L256.0 111.19 L256.5 114.10 L257.0 117.09 L257.5 120.16 L258.0 123.29 L258.5 126.47 L259.0 129.71 L259.5 132.97 L260.0 136.27 L260.5 139.58 L261.0 142.89 L261.5 146.19 L262.0 149.48 L262.5 152.74 L263.0 155.95 L263.5 159.12 L264.0 162.22 L264.5 165.25 L265.0 168.19 L265.5 171.04 L266.0 173.79 L266.5 176.44 L267.0 178.96 L267.5 181.36 L268.0 183.63 L268.5 185.77 L269.0 187.76 L269.5 189.61 L270.0 191.30 L270.5 192.85 L271.0 194.23 L271.5 195.46 L272.0 196.52 L272.5 197.42 L273.0 198.16 L273.5 198.74 L274.0 199.15 L274.5 199.40 L275.0 199.49 L275.5 199.41 L276.0 199.18 L276.5 198.80 L277.0 198.26 L277.5 197.57 L278.0 196.74 L278.5 195.77 L279.0 194.66 L279.5 193.42 L280.0 192.06 L280.5 190.59 L281.0 189.00 L281.5 187.31 L282.0 185.52 L282.5 183.65 L283.0 181.69 L283.5 179.67 L284.0 177.58 L284.5 175.44 L285.0 173.26 L285.5 171.05 L286.0 168.81 L286.5 166.55 L287.0 164.29 L287.5 162.04 L288.0 159.81 L288.5 157.60 L289.0 155.43 L289.5 153.30 L290.0 151.23 L290.5 149.22 L291.0 147.29 L291.5 145.44 L292.0 143.69 L292.5 142.04 L293.0 140.49 L293.5 139.07 L294.0 137.76 L294.5 136.59 L295.0 135.55 L295.5 134.66 L296.0 133.91 L296.5 133.31 L297.0 132.87 L297.5 132.58 L298.0 132.46 L298.5 132.50 L299.0 132.70 L299.5 133.06 L300.0 133.59 L300.5 134.27 L301.0 135.12 L301.5 136.12 L302.0 137.27 L302.5 138.57 L303.0 140.01 L303.5 141.59 L304.0 143.30 L304.5 145.14 L305.0 147.09 L305.5 149.16 L306.0 151.32 L306.5 153.57 L307.0 155.91 L307.5 158.31 L308.0 160.78 L308.5 163.30 L309.0 165.87 L309.5 168.46 L310.0 171.07 L310.5 173.68 L311.0 176.30 L311.5 178.90 L312.0 181.47 L312.5 184.01 L313.0 186.50 L313.5 188.93 L314.0 191.29 L314.5 193.57 L315.0 195.77 L315.5 197.87 L316.0 199.87 L316.5 201.76 L317.0 203.52 L317.5 205.16 L318.0 206.66 L318.5 208.02 L319.0 209.24 L319.5 210.31 L320.0 211.23 L320.5 212.00 L321.0 212.61 L321.5 213.05 L322.0 213.34 L322.5 213.47 L323.0 213.45 L323.5 213.26 L324.0 212.92 L324.5 212.43 L325.0 211.78 L325.5 211.00 L326.0 210.07 L326.5 209.00 L327.0 207.81 L327.5 206.49 L328.0 205.06 L328.5 203.51 L329.0 201.87 L329.5 200.13 L330.0 198.30 L330.5 196.39 L331.0 194.42 L331.5 192.38 L332.0 190.30 L332.5 188.17 L333.0 186.01 L333.5 183.82 L334.0 181.63 L334.5 179.42 L335.0 177.23 L335.5 175.04 L336.0 172.88 L336.5 170.75 L337.0 168.67 L337.5 166.63 L338.0 164.65 L338.5 162.74 L339.0 160.90 L339.5 159.14 L340.0 157.47 L340.5 155.89 L341.0 154.42 L341.5 153.05 L342.0 151.80 L342.5 150.67 L343.0 149.66 L343.5 148.78 L344.0 148.04 L344.5 147.43 L345.0 146.97 L345.5 146.64 L346.0 146.47 L346.5 146.44 L347.0 146.57 L347.5 146.85 L348.0 147.28 L348.5 147.87 L349.0 148.62 L349.5 149.52 L350.0 150.58 L350.5 151.79 L351.0 153.16 L351.5 154.68 L352.0 156.35 L352.5 158.17 L353.0 160.14 L353.5 162.24 L354.0 164.48 L354.5 166.85 L355.0 169.35 L355.5 171.96 L356.0 174.69 L356.5 177.52 L357.0 180.44 L357.5 183.45 L358.0 186.53 L358.5 189.68 L359.0 192.88 L359.5 196.12 L360.0 199.40 L360.5 202.69 L361.0 205.99 L361.5 209.28 L362.0 212.55 L362.5 215.80 L363.0 219.00 L363.5 222.16 L364.0 225.25 L364.5 228.28 L365.0 231.23 L365.5 234.09 L366.0 236.87 L366.5 239.54 L367.0 242.11 L367.5 244.57 L368.0 246.92 L368.5 249.16 L369.0 251.27 L369.5 253.27 L370.0 255.14 L370.5 256.89 L371.0 258.52 L371.5 260.02 L372.0 261.39 L372.5 262.64 L373.0 263.76 L373.5 264.76 L374.0 265.64 L374.5 266.40 L375.0 267.04 L375.5 267.56 L376.0 267.96 L376.5 268.25 L377.0 268.43 L377.5 268.50 L378.0 268.46 L378.5 268.32 L379.0 268.08 L379.5 267.74 L380.0 267.30 L380.5 266.78 L381.0 266.16 L381.5 265.47 L382.0 264.69 L382.5 263.84 L383.0 262.91 L383.5 261.91 L384.0 260.85 L384.5 259.73 L385.0 258.55 L385.5 257.32 L386.0 256.04 L386.5 254.72 L387.0 253.35 L387.5 251.95 L388.0 250.51 L388.5 249.05 L389.0 247.55 L389.5 246.04 L390.0 244.51 L390.5 242.96 L391.0 241.41 L391.5 239.84 L392.0 238.27 L392.5 236.70 L393.0 235.13 L393.5 233.56 L394.0 232.00 L394.5 230.45 L395.0 228.91 L395.5 227.38 L396.0 225.87 L396.5 224.38 L397.0 222.91 L397.5 221.45 L398.0 220.02 L398.5 218.62 L399.0 217.24 L399.5 215.89 L400.0 214.56 L400.5 213.27 L401.0 212.00 L401.5 210.76 L402.0 209.56 L402.5 208.38 L403.0 207.23 L403.5 206.12 L404.0 205.04 L404.5 203.99 L405.0 202.97 L405.5 201.98 L406.0 201.03 L406.5 200.10 L407.0 199.20 L407.5 198.34 L408.0 197.50 L408.5 196.70 L409.0 195.92 L409.5 195.17 L410.0 194.45 L410.5 193.75 L411.0 193.08 L411.5 192.44 L412.0 191.82 L412.5 191.23 L413.0 190.66 L413.5 190.11 L414.0 189.58 L414.5 189.07 L415.0 188.59 L415.5 188.12 L416.0 187.68 L416.5 187.25 L417.0 186.84 L417.5 186.44 L418.0 186.06 L418.5 185.70 L419.0 185.35 L419.5 185.02 L420.0 184.70 L420.5 184.39 L421.0 184.09 L421.5 183.81 L422.0 183.54 L422.5 183.28 L423.0 183.03 L423.5 182.78 L424.0 182.55 L424.5 182.33 L425.0 182.11 L425.5 181.90 L426.0 181.70 L426.5 181.51 L427.0 181.33 L427.5 181.15 L428.0 180.97 L428.5 180.81 L429.0 180.65 L429.5 180.49 L430.0 180.34 L430.5 180.19 L431.0 180.05 L431.5 179.91 L432.0 179.78 L432.5 179.65 L433.0 179.52 L433.5 179.40 L434.0 179.28 L434.5 179.16 L435.0 179.05 L435.5 178.94 L436.0 178.84 L436.5 178.73 L437.0 178.63 L437.5 178.53 L438.0 178.44 L438.5 178.34 L439.0 178.25 L439.5 178.16 L440.0 178.07 L440.5 177.99 L441.0 177.90 L441.5 177.82 L442.0 177.74 L442.5 177.66 L443.0 177.59 L443.5 177.51 L444.0 177.44 L444.5 177.37 L445.0 177.30 L445.5 177.23 L446.0 177.16 L446.5 177.10 L447.0 177.03 L447.5 176.97 L448.0 176.91 L448.5 176.85 L449.0 176.79 L449.5 176.73 L450.0 176.68 L450.5 176.62 L451.0 176.57 L451.5 176.52 L452.0 176.46 L452.5 176.41 L453.0 176.36 L453.5 176.32 L454.0 176.27 L454.5 176.22 L455.0 176.18 L455.5 176.13 L456.0 176.09 L456.5 176.05 L457.0 176.01 L457.5 175.97 L458.0 175.93 L458.5 175.89 L459.0 175.85 L459.5 175.81 L460.0 175.78 L460.5 175.74 L461.0 175.71 L461.5 175.67 L462.0 175.64 L462.5 175.61 L463.0 175.58 L463.5 175.55 L464.0 175.52 L464.5 175.49 L465.0 175.46 L465.5 175.43 L466.0 175.40 L466.5 175.38 L467.0 175.35 L467.5 175.32 L468.0 175.30 L468.5 175.28 L469.0 175.25 L469.5 175.23 L470.0 175.21 L470.5 175.18 L471.0 175.16 L471.5 175.14 L472.0 175.12 L472.5 175.10 L473.0 175.08 L473.5 175.06 L474.0 175.05 L474.5 175.03 L475.0 175.01 L475.5 174.99 L476.0 174.98 L476.5 174.96 L477.0 174.94 L477.5 174.93 L478.0 174.91 L478.5 174.90 L479.0 174.88 L479.5 174.87 L480.0 174.86 L480.5 174.84 L481.0 174.83 L481.5 174.82 L482.0 174.81 L482.5 174.79 L483.0 174.78 L483.5 174.77 L484.0 174.76 L484.5 174.75 L485.0 174.74 L485.5 174.73 L486.0 174.72 L486.5 174.71 L487.0 174.70 L487.5 174.69 L488.0 174.68 L488.5 174.67 L489.0 174.66 L489.5 174.65 L490.0 174.64 L490.5 174.64 L491.0 174.63 L491.5 174.62 L492.0 174.61 L492.5 174.61 L493.0 174.60 L493.5 174.59 L494.0 174.58 L494.5 174.58 L495.0 174.57 L495.5 174.56 L496.0 174.56 L496.5 174.55 L497.0 174.55 L497.5 174.54 L498.0 174.53 L498.5 174.53 L499.0 174.52 L499.5 174.52 L500.0 174.51 L500.5 174.51 L501.0 174.50 L501.5 174.50 L502.0 174.49 L502.5 174.49 L503.0 174.48 L503.5 174.48 L504.0 174.47 L504.5 174.47 L505.0 174.47 L505.5 174.46 L506.0 174.46 L506.5 174.45 L507.0 174.45 L507.5 174.45 L508.0 174.44 L508.5 174.44 L509.0 174.43 L509.5 174.43 L510.0 174.43 L510.5 174.42 L511.0 174.42 L511.5 174.42 L512.0 174.41 L512.5 174.41 L513.0 174.40 L513.5 174.40 L514.0 174.40 L514.5 174.39 L515.0 174.39 L515.5 174.39 L516.0 174.39 L516.5 174.38 L517.0 174.38 L517.5 174.38 L518.0 174.37 L518.5 174.37 L519.0 174.37 L519.5 174.36 L520.0 174.36 L520.5 174.36 L521.0 174.36 L521.5 174.35 L522.0 174.35 L522.5 174.35 L523.0 174.34 L523.5 174.34 L524.0 174.34 L524.5 174.34 L525.0 174.33 L525.5 174.33 L526.0 174.33 L526.5 174.32 L527.0 174.32 L527.5 174.32 L528.0 174.32 L528.5 174.31 L529.0 174.31 L529.5 174.31 L530.0 174.31 L530.5 174.30 L531.0 174.30" stroke="#2210bc"/>
</g>
<g stroke="#000" stroke-width="2" stroke-linecap="butt">
<line x1="87" y1="10.2" x2="87" y2="343"/>
<line x1="86" y1="336" x2="532" y2="336"/>
<line x1="83.2" y1="335.65" x2="87" y2="335.65"/><line x1="80" y1="303.20" x2="87" y2="303.20"/><line x1="83.2" y1="270.75" x2="87" y2="270.75"/><line x1="80" y1="238.30" x2="87" y2="238.30"/><line x1="83.2" y1="205.85" x2="87" y2="205.85"/><line x1="80" y1="173.40" x2="87" y2="173.40"/><line x1="83.2" y1="140.95" x2="87" y2="140.95"/><line x1="80" y1="108.50" x2="87" y2="108.50"/><line x1="83.2" y1="76.05" x2="87" y2="76.05"/><line x1="80" y1="43.60" x2="87" y2="43.60"/><line x1="83.2" y1="11.15" x2="87" y2="11.15"/><line x1="87.00" y1="336" x2="87.00" y2="342.8"/><line x1="142.50" y1="336" x2="142.50" y2="340"/><line x1="198.00" y1="336" x2="198.00" y2="342.8"/><line x1="253.50" y1="336" x2="253.50" y2="340"/><line x1="309.00" y1="336" x2="309.00" y2="342.8"/><line x1="364.50" y1="336" x2="364.50" y2="340"/><line x1="420.00" y1="336" x2="420.00" y2="342.8"/><line x1="475.50" y1="336" x2="475.50" y2="340"/><line x1="531.00" y1="336" x2="531.00" y2="342.8"/>
</g>
<g font-size="13" fill="#111" stroke="#111" stroke-width="0.25">
<text x="76.2" y="306.80" text-anchor="end">-200000</text><text x="76.2" y="241.90" text-anchor="end">-100000</text><text x="76.2" y="177.00" text-anchor="end">0</text><text x="76.2" y="112.10" text-anchor="end">100000</text><text x="76.2" y="47.20" text-anchor="end">200000</text><text x="87.00" y="357" text-anchor="middle">3460</text><text x="198.00" y="357" text-anchor="middle">3480</text><text x="309.00" y="357" text-anchor="middle">3500</text><text x="420.00" y="357" text-anchor="middle">3520</text><text x="531.00" y="357" text-anchor="middle">3540</text>
</g>
<text x="309.5" y="383" font-size="16" text-anchor="middle" fill="#111" stroke="#111" stroke-width="0.2">Field [G]</text>
<text transform="translate(20.6,173) rotate(-90)" font-size="16" text-anchor="middle" fill="#111" stroke="#111" stroke-width="0.2">Intensity</text>
<line x1="383" y1="18.3" x2="468.8" y2="18.3" stroke="#2210bc" stroke-width="2"/>
<rect x="383.5" y="47.6" width="88" height="5.2" fill="#ffe4fa"/>
<line x1="383" y1="53.3" x2="468.8" y2="53.3" stroke="#7d401e" stroke-width="2"/>
<g class="leg" font-size="16.7" fill="#111" stroke="#111" stroke-width="0.25">
<text x="475.7" y="23.9">dumbbell</text>
<text x="476" y="56.2">rotaxane</text>
</g>
</svg>
</body></html>
